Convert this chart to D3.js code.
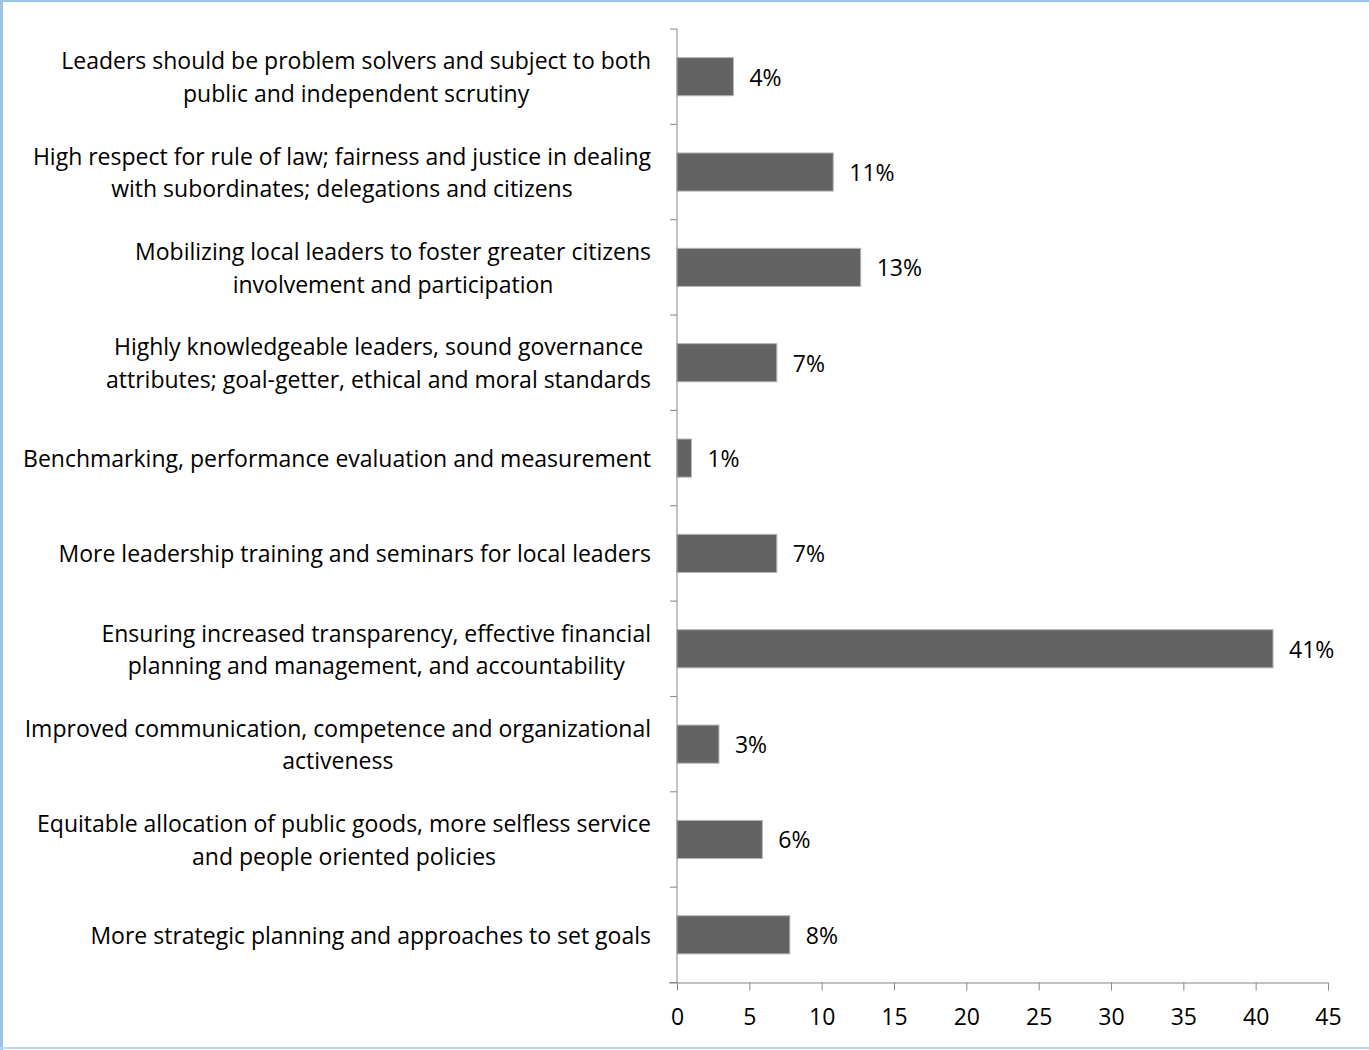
<!DOCTYPE html>
<html>
<head>
<meta charset="utf-8">
<script src="https://cdn.jsdelivr.net/npm/d3@7"></script>
<style>
  html, body { margin: 0; padding: 0; background: #fff; }
  svg { display: block; }
  text { font-family: "Open Sans", Carlito, Calibri, sans-serif; fill: #000; }
</style>
</head>
<body>
<svg id="chart" width="1369" height="1050"></svg>
<script>
// Category labels (each entry is the list of lines shown for that row)
const categories = [
  ["Leaders should be problem solvers and subject to both", "public and independent scrutiny"],
  ["High respect for rule of law; fairness and justice in dealing", "with subordinates; delegations and citizens"],
  ["Mobilizing local leaders to foster greater citizens", "involvement and participation"],
  ["Highly knowledgeable leaders, sound governance", "attributes; goal-getter, ethical and moral standards"],
  ["Benchmarking, performance evaluation and measurement"],
  ["More leadership training and seminars for local leaders"],
  ["Ensuring increased transparency, effective financial", "planning and management, and accountability"],
  ["Improved communication, competence and organizational", "activeness"],
  ["Equitable allocation of public goods, more selfless service", "and people oriented policies"],
  ["More strategic planning and approaches to set goals"]
];

// Share of responses (percent)
const values = [3.9, 10.8, 12.7, 6.9, 1.0, 6.9, 41.2, 2.9, 5.9, 7.8];

// X axis ticks
const xTicks = [0, 5, 10, 15, 20, 25, 30, 35, 40, 45];

const svg = d3.select("#chart");
const W = 1369, H = 1050;
const fontSize = 23;

// frame lines along the top, left and bottom edges
svg.append("line").attr("x1", 0).attr("x2", W).attr("y1", 1).attr("y2", 1)
  .attr("stroke", "#9dc3e6").attr("stroke-width", 2);
svg.append("line").attr("x1", 1.5).attr("x2", 1.5).attr("y1", 0).attr("y2", H)
  .attr("stroke", "#9dc3e6").attr("stroke-width", 3);
svg.append("line").attr("x1", 0).attr("x2", W).attr("y1", 1048).attr("y2", 1048)
  .attr("stroke", "#bcd6ea").attr("stroke-width", 2);

const ids = categories.map((_, i) => i);

const x = d3.scaleLinear().domain([0, 45]).range([677, 1328]);
const y = d3.scaleBand().domain(ids).range([29, 982.5]).paddingInner(0.6).paddingOuter(0.3);

const axisColor = "#868686";

// bars
svg.append("g").selectAll("rect")
  .data(values)
  .join("rect")
  .attr("x", x(0))
  .attr("y", (d, i) => y(i))
  .attr("width", d => x(d) - x(0))
  .attr("height", y.bandwidth())
  .attr("fill", "#636363")
  .attr("stroke", "#b5b5b5")
  .attr("stroke-width", 1);

// value labels
svg.append("g").selectAll("text")
  .data(values)
  .join("text")
  .attr("x", d => x(d) + 16)
  .attr("y", (d, i) => y(i) + y.bandwidth() / 2)
  .attr("dominant-baseline", "central")
  .attr("font-size", fontSize)
  .text(d => Math.round(d) + "%");

// vertical axis line with category boundary ticks
const step = y.step();
const plotTop = y.range()[0];
const yAxis = svg.append("g");
yAxis.append("line")
  .attr("x1", x(0)).attr("x2", x(0))
  .attr("y1", plotTop).attr("y2", y.range()[1])
  .attr("stroke", axisColor).attr("stroke-width", 1);
yAxis.selectAll("line.tick")
  .data(d3.range(categories.length + 1))
  .join("line")
  .attr("class", "tick")
  .attr("x1", x(0) - 7).attr("x2", x(0))
  .attr("y1", i => plotTop + i * step).attr("y2", i => plotTop + i * step)
  .attr("stroke", axisColor).attr("stroke-width", 1);

// horizontal axis
const xAxisG = svg.append("g")
  .attr("transform", `translate(0,${y.range()[1]})`)
  .call(d3.axisBottom(x).tickValues(xTicks).tickSize(8).tickSizeOuter(0).tickPadding(18));
xAxisG.select(".domain").attr("stroke", axisColor)
  .attr("d", `M${x(0) - 8},0.5H${x(45)}`);
xAxisG.selectAll(".tick line").attr("stroke", axisColor);
xAxisG.selectAll(".tick text")
  .attr("font-size", fontSize)
  .attr("font-family", null)
  .attr("fill", "#000");

// category labels: each block is right aligned, lines centred inside the block
const labelRight = 651;
const lineGap = 32.5;
const labels = svg.append("g");
categories.forEach((lines, i) => {
  const g = labels.append("g");
  const cy = y(i) + y.bandwidth() / 2;
  const texts = lines.map((ln, j) => g.append("text")
    .attr("font-size", fontSize)
    .attr("dominant-baseline", "central")
    .attr("text-anchor", "middle")
    .attr("y", cy + (j - (lines.length - 1) / 2) * lineGap)
    .text(ln));
  const widest = d3.max(texts, t => t.node().getComputedTextLength());
  texts.forEach(t => t.attr("x", labelRight - widest / 2));
});
</script>
</body>
</html>
